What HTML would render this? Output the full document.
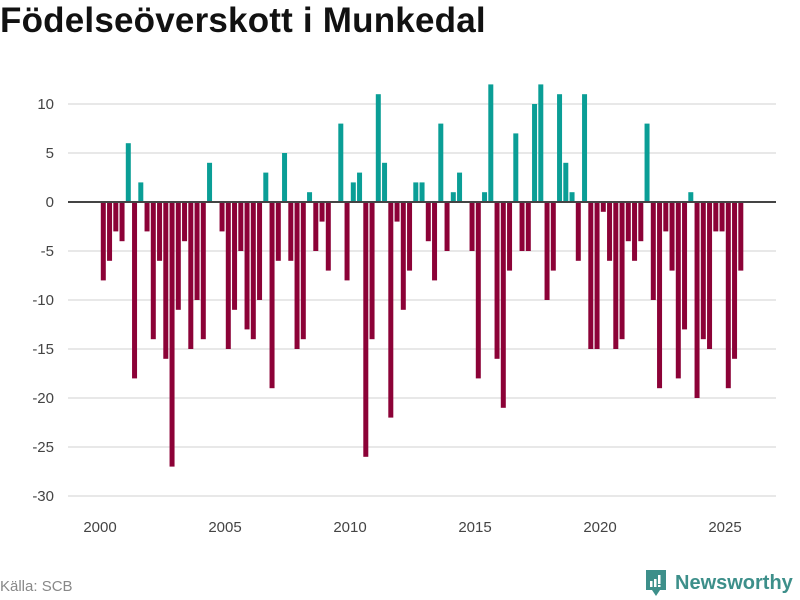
<!DOCTYPE html>
<html><head><meta charset="utf-8">
<style>
body{margin:0;width:800px;height:600px;background:#fff;font-family:"Liberation Sans",sans-serif;overflow:hidden;position:relative}
#title{position:absolute;left:0;top:1px;font-size:35px;font-weight:bold;color:#111;letter-spacing:0.2px}
#source{position:absolute;left:0;top:578px;font-size:15px;color:#888}
#logo{position:absolute;left:644px;top:568px;display:flex;align-items:center}
#logo span{font-size:20px;font-weight:bold;color:#3d8f8a;margin-left:7px}
</style></head><body>
<div id="title">Födelseöverskott i Munkedal</div>
<svg id="chart" width="800" height="600" style="position:absolute;left:0;top:0"></svg>
<div id="source">Källa: SCB</div>
<div id="logo">
<svg width="24" height="30" viewBox="0 0 24 30"><path d="M2 2h20v20h-6l-4 6l-4-6H2z" fill="#3d8f8a"/><rect x="6" y="13" width="2.5" height="6" fill="#fff"/><rect x="10" y="11" width="2.5" height="8" fill="#fff"/><rect x="14" y="7" width="2.5" height="9" fill="#fff"/><rect x="14" y="17" width="2.5" height="2" fill="#fff"/></svg>
<span>Newsworthy</span></div>
<script>
const startYear = 2000;
const values = [-8,-6,-3,-4, 6,-18,2,-3, -14,-6,-16,-27, -11,-4,-15,-10, -14,4,0,-3, -15,-11,-5,-13, -14,-10,3,-19, -6,5,-6,-15, -14,1,-5,-2, -7,0,8,-8, 2,3,-26,-14, 11,4,-22,-2, -11,-7,2,2, -4,-8,8,-5, 1,3,0,-5, -18,1,12,-16, -21,-7,7,-5, -5,10,12,-10, -7,11,4,1, -6,11,-15,-15, -1,-6,-15,-14, -4,-6,-4,8, -10,-19,-3,-7, -18,-13,1,-20, -14,-15,-3,-3, -19,-16,-7];
const yTicks = [10,5,0,-5,-10,-15,-20,-25,-30];
const xTicks = [2000,2005,2010,2015,2020,2025];
const NS='http://www.w3.org/2000/svg';
const svg=document.getElementById('chart');
const xs = t => 100 + (t-2000)*25;
const ys = v => 202 - v*9.8;
function mk(tag,attrs){const e=document.createElementNS(NS,tag);for(const k in attrs)e.setAttribute(k,attrs[k]);svg.appendChild(e);return e;}
yTicks.forEach(v=>{
  const l=mk('line',{x1:68,x2:776,y1:ys(v),y2:ys(v),stroke:'#e0e0e0','stroke-width':1.5});
  
  
  const t=mk('text',{x:54,y:ys(v)+5,'text-anchor':'end','font-size':15,fill:'#444','font-family':'Liberation Sans, sans-serif'});
  t.textContent=v;
  
  
});
xTicks.forEach(y=>{
  const t=mk('text',{x:xs(y),y:532,'text-anchor':'middle','font-size':15,fill:'#444','font-family':'Liberation Sans, sans-serif'});
  t.textContent=y;
  
  
});
values.forEach((v,i)=>{
  const t=startYear+i/4;
  const x=xs(t)+0.8;
  const y0=ys(0), y1=ys(v);
  const r=mk('rect',{x:x,y:Math.min(y0,y1),width:5,height:Math.abs(y1-y0),fill:v>=0?'#0a9e96':'#8c0237'});
  
  
});
const z=mk('line',{x1:68,x2:776,y1:ys(0),y2:ys(0),stroke:'#444','stroke-width':2});


</script>
</body></html>
